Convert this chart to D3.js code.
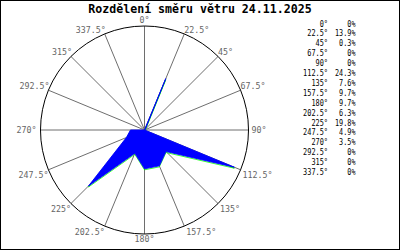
<!DOCTYPE html>
<html><head><meta charset="utf-8">
<script src="https://cdn.jsdelivr.net/npm/d3@7"></script>
<style>html,body{margin:0;padding:0;background:#fff;}svg{display:block;}</style>
</head><body>
<svg id="c" width="400" height="250"></svg>
<script>
const title = "Rozdělení směru větru 24.11.2025";
const directions = [0,22.5,45,67.5,90,112.5,135,157.5,180,202.5,225,247.5,270,292.5,315,337.5];
const dirLabels = ["0°","22.5°","45°","67.5°","90°","112.5°","135°","157.5°","180°","202.5°","225°","247.5°","270°","292.5°","315°","337.5°"];
const values = [0,13.9,0.3,0,0,24.3,7.6,9.7,9.7,6.3,19.8,4.9,3.5,0,0,0];
const pctLabels = ["0%","13.9%","0.3%","0%","0%","24.3%","7.6%","9.7%","9.7%","6.3%","19.8%","4.9%","3.5%","0%","0%","0%"];
const maxValue = 26;

const svg = d3.select("#c");
const cx = 144.5, cy = 130, R = 104;
const rScale = d3.scaleLinear().domain([0, maxValue]).range([0, R]);
const rad = d => d * Math.PI / 180;

// border
svg.append("rect").attr("x",0.5).attr("y",0.5).attr("width",399).attr("height",249)
  .attr("fill","none").attr("stroke","#000").attr("stroke-width",1);

// title
svg.append("text").attr("x",200).attr("y",13).attr("text-anchor","middle")
  .attr("font-family","DejaVu Sans Mono").attr("font-weight","bold").attr("font-size","11.6px")
  .attr("fill","#000").text(title);

const g = svg.append("g").attr("transform",`translate(${cx},${cy})`);

// spokes
g.selectAll("line.spoke").data(directions).join("line")
  .attr("x1",0).attr("y1",0)
  .attr("x2",d => rScale(maxValue)*Math.sin(rad(d)))
  .attr("y2",d => -rScale(maxValue)*Math.cos(rad(d)))
  .attr("stroke","#6e6e6e").attr("stroke-width",1);

// data polygon
const pts = directions.map((d,i) => ({dir:d, val:values[i]}));
const radial = d3.lineRadial().angle(d => rad(d.dir)).radius(d => rScale(d.val)).curve(d3.curveLinearClosed);
g.append("path").attr("d", radial(pts)).attr("transform","translate(0,1)")
  .attr("fill","none").attr("stroke","#00ff00").attr("stroke-width",0.8);
g.append("path").attr("d", radial(pts)).attr("fill","#0000ff")
  .attr("stroke","#0000ff").attr("stroke-width",0.9).attr("stroke-linejoin","miter");

// outer circle
g.append("circle").attr("r",rScale(maxValue)).attr("fill","none").attr("stroke","#000").attr("stroke-width",1);

// direction labels
g.selectAll("text.lab").data(directions).join("text")
  .attr("font-family","DejaVu Sans Mono").attr("font-size","8.3px").attr("fill","#666")
  .each(function(d,i){
    const s = Math.sin(rad(d)), c = Math.cos(rad(d));
    let x = R*s, y = -R*c, anchor, base;
    if (Math.abs(s) < 0.01) { anchor = "middle"; base = c > 0 ? y - 3 : y + 8; }
    else {
      anchor = s > 0 ? "start" : "end";
      if (Math.abs(c) < 0.01) { base = y + 3; x += s > 0 ? 3 : -4; }
      else if (c > 0) { base = y - 1; x += s > 0 ? 0 : 1; }
      else { base = y + 8.5; x += s > 0 ? 2 : 0; }
    }
    d3.select(this).attr("x",x).attr("y",base).attr("text-anchor",anchor).text(dirLabels[i]);
  });

// table
const tbl = svg.append("g").attr("font-family","DejaVu Sans Mono").attr("font-size","8.2px").attr("fill","#000");
const rowY = d3.scaleLinear().domain([0,15]).range([26.5, 175]);
tbl.selectAll("text.deg").data(dirLabels).join("text")
  .attr("x",328).attr("y",(d,i)=>rowY(i)).attr("text-anchor","end")
  .attr("textLength",d=>d.length*4.15).attr("lengthAdjust","spacingAndGlyphs").text(d=>d);
tbl.selectAll("text.pct").data(pctLabels).join("text")
  .attr("x",355.5).attr("y",(d,i)=>rowY(i)).attr("text-anchor","end")
  .attr("textLength",d=>d.length*4.1).attr("lengthAdjust","spacingAndGlyphs").text(d=>d);
</script>
</body></html>
